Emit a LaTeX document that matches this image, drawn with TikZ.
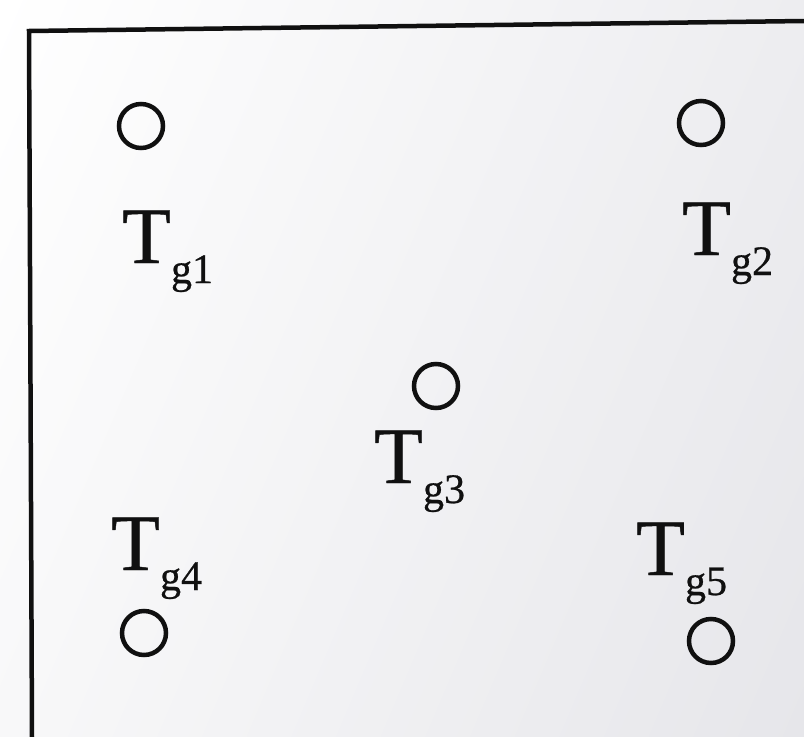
\documentclass[tikz,border=0pt]{standalone}
\usepackage{fontspec}
\setmainfont{Liberation Serif}[FakeBold=0.6]
\usetikzlibrary{shadings}
\definecolor{ink}{HTML}{101010}
\definecolor{bgA}{HTML}{FFFFFF}
\definecolor{bgB}{HTML}{EDEDF0}
\definecolor{bgC}{HTML}{F8F8F9}
\definecolor{bgD}{HTML}{E6E6EA}
\newcommand\Tglabel[1]{T\raisebox{-20pt}{\fontsize{42}{42}\selectfont g#1}}
\tikzset{
  pin/.style={circle, draw=ink, line width=4.5pt, minimum size=44pt, inner sep=0pt},
  tlabel/.style={anchor=base west, inner sep=0pt, text=ink, font=\fontsize{80}{80}\selectfont},
  frame/.style={draw=ink, line width=4.5pt}
}
\begin{document}
\begin{tikzpicture}[x=1pt, y=-1pt]
\useasboundingbox (0,0) rectangle (804,737);
\shade[upper left=bgA, upper right=bgB, lower left=bgC, lower right=bgD] (0,0) rectangle (804,737);
% frame
\coordinate (ftl) at (29,31);
\coordinate (ftr) at (804,21);
\coordinate (fbl) at (32,737);
\draw[frame, line join=miter] (fbl) -- (ftl) -- (ftr);
% points
\node[pin] (c1) at (141,126) {};
\node[pin] (c2) at (701,123) {};
\node[pin] (c3) at (436,386) {};
\node[pin] (c4) at (144,633) {};
\node[pin] (c5) at (711,641) {};
% labels
\node[tlabel] (t1) at (122,263) {\Tglabel{1}};
\node[tlabel] (t2) at (682,255) {\Tglabel{2}};
\node[tlabel] (t3) at (374,483) {\Tglabel{3}};
\node[tlabel] (t4) at (111,570) {\Tglabel{4}};
\node[tlabel] (t5) at (636,575) {\Tglabel{5}};
\end{tikzpicture}
\end{document}
